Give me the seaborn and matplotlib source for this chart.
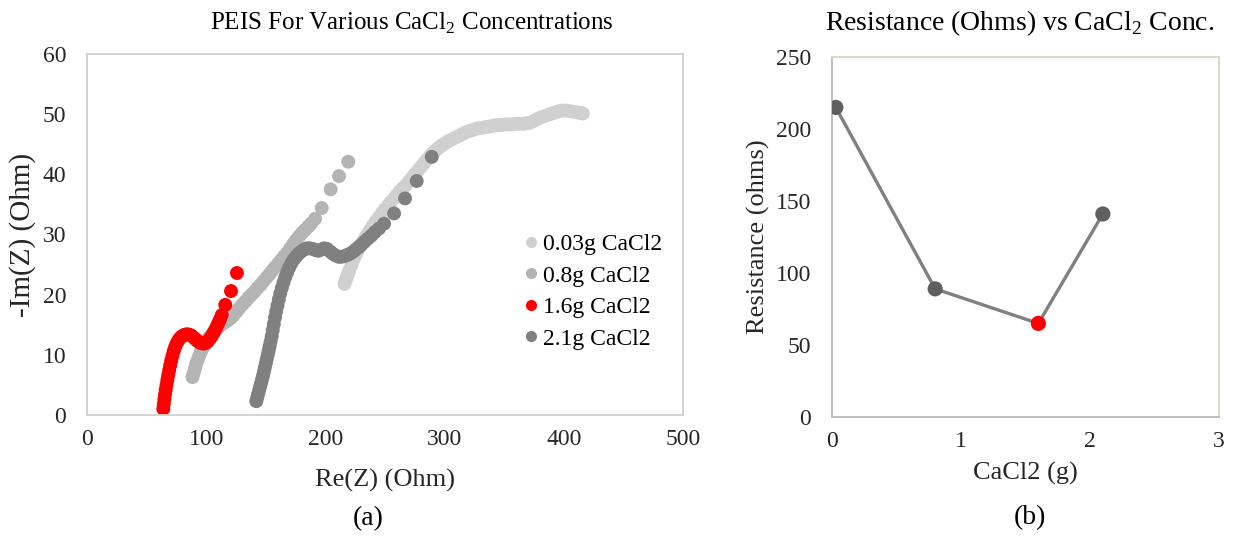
import matplotlib
matplotlib.use("Agg")
import matplotlib.pyplot as plt
import pandas as pd
import seaborn as sns


# ---------------------------
# Data
# ---------------------------

labels = ["0.03g CaCl2", "0.8g CaCl2", "1.6g CaCl2", "2.1g CaCl2"]
colors = ["#d0d0d0", "#b4b4b4", "#ff0000", "#808080"]

# 0.03g CaCl2
re_003 = [216, 217, 218, 219, 220, 222, 224, 226, 228, 230,
          232, 234, 236, 238, 240, 242.5, 245, 247.5, 250, 252.5,
          255, 257.5, 260, 262.5, 265, 267.5, 270, 272.5, 275, 277.5,
          280, 282.5, 285, 287.5, 290, 292.5, 295, 297.5, 300, 303,
          306, 309, 312, 315, 318, 321, 324, 327, 330, 333,
          336, 339, 342, 345, 348, 351, 354, 357, 360, 363,
          366, 369, 372, 375, 378, 381, 384, 387, 390, 393,
          396, 399, 402, 405, 408, 411, 414, 416]
im_003 = [21.8, 22.4, 22.9, 23.5, 24.0, 25.0, 26.0, 26.8, 27.6, 28.3,
          29.0, 29.7, 30.3, 30.9, 31.5, 32.2, 32.9, 33.6, 34.2, 34.8,
          35.4, 36.0, 36.6, 37.2, 37.7, 38.2, 38.8, 39.4, 40.0, 40.6,
          41.2, 41.8, 42.4, 43.0, 43.5, 44.0, 44.4, 44.8, 45.1, 45.5,
          45.8, 46.1, 46.4, 46.7, 47.0, 47.2, 47.4, 47.6, 47.7, 47.8,
          47.9, 48.0, 48.1, 48.2, 48.2, 48.3, 48.3, 48.3, 48.4, 48.4,
          48.4, 48.5, 48.6, 48.9, 49.2, 49.5, 49.7, 49.9, 50.1, 50.3,
          50.5, 50.6, 50.6, 50.5, 50.4, 50.3, 50.2, 50.1]

# 0.8g CaCl2
re_08 = [88.5, 89.5, 90.5, 91.5, 92.7, 94.0, 95.5, 97.0, 98.7, 100.5,
         102.5, 104.5, 106.5, 108.7, 111.0, 113.3, 115.7, 118.0, 120.5, 123.0,
         125.5, 128.0, 130.5, 133.0, 135.5, 138.0, 140.5, 143.0, 145.5, 148.0,
         150.5, 153.0, 155.5, 158.0, 160.5, 163.0, 165.5, 168.0, 170.5, 173.0,
         175.5, 178.0, 180.5, 183.0, 185.5, 188.0, 191.3, 196.9, 204.4, 211.4,
         219.2]
im_08 = [6.3, 7.0, 7.7, 8.4, 9.1, 9.8, 10.5, 11.1, 11.7, 12.3,
         12.9, 13.4, 13.9, 14.3, 14.7, 15.1, 15.4, 15.7, 16.1, 16.6,
         17.2, 17.8, 18.4, 18.9, 19.5, 20.0, 20.5, 21.1, 21.6, 22.2,
         22.8, 23.4, 24.0, 24.6, 25.2, 25.8, 26.4, 27.0, 27.7, 28.4,
         29.1, 29.7, 30.3, 30.8, 31.3, 31.8, 32.6, 34.4, 37.5, 39.7,
         42.1]

# 1.6g CaCl2
re_16 = [64.0, 64.4, 64.9, 65.4, 66.0, 66.7, 67.4, 68.1, 68.9, 69.7,
         70.6, 71.6, 72.7, 73.9, 75.2, 76.6, 78.1, 79.7, 81.4, 83.1,
         84.8, 86.5, 88.2, 89.9, 91.6, 93.3, 95.0, 96.7, 98.4, 100.0,
         101.6, 103.1, 104.6, 106.0, 107.4, 108.8, 110.2, 111.6, 113.0, 116.0,
         120.8, 125.8]
im_16 = [1.0, 1.8, 2.6, 3.4, 4.2, 5.0, 5.8, 6.6, 7.4, 8.2,
         9.0, 9.8, 10.6, 11.3, 11.9, 12.4, 12.8, 13.1, 13.3, 13.4,
         13.4, 13.3, 13.1, 12.8, 12.5, 12.2, 12.0, 11.9, 11.9, 12.0,
         12.3, 12.7, 13.1, 13.6, 14.1, 14.7, 15.3, 15.9, 16.6, 18.3,
         20.6, 23.6]

# 2.1g CaCl2
re_21 = [142.0, 142.8, 143.6, 144.4, 145.2, 146.0, 146.8, 147.6, 148.4, 149.2,
         150.0, 150.8, 151.6, 152.4, 153.2, 154.0, 154.9, 155.8, 156.7, 157.7,
         158.7, 159.8, 160.9, 162.1, 163.4, 164.8, 166.3, 167.9, 169.6, 171.4,
         173.3, 175.3, 177.5, 179.8, 182.2, 184.6, 187.0, 189.4, 191.8, 194.2,
         196.6, 199.0, 201.4, 203.8, 206.2, 208.6, 211.0, 213.4, 215.8, 218.2,
         220.6, 223.0, 225.4, 227.8, 230.2, 232.8, 235.5, 238.5, 241.5, 245.0,
         249.2, 257.6, 266.8, 276.6, 289.2]
im_21 = [2.3, 2.9, 3.5, 4.1, 4.7, 5.3, 5.9, 6.5, 7.2, 7.9,
         8.6, 9.3, 10.0, 10.7, 11.4, 12.2, 13.1, 14.1, 15.1, 16.2,
         17.2, 18.2, 19.2, 20.2, 21.1, 22.0, 22.9, 23.7, 24.5, 25.2,
         25.8, 26.3, 26.8, 27.2, 27.5, 27.7, 27.7, 27.6, 27.4, 27.3,
         27.5, 27.7, 27.6, 27.2, 26.8, 26.5, 26.3, 26.3, 26.4, 26.6,
         26.8, 27.1, 27.5, 27.9, 28.3, 28.8, 29.3, 29.8, 30.4, 31.0,
         31.8, 33.5, 36.0, 38.9, 42.9]

# Resistance vs concentration
conc_g = [0.03, 0.8, 1.6, 2.1]
resistance = [215, 89, 65, 141]
point_kind = ["other", "other", "lowest", "other"]


# ---------------------------
# Style
# ---------------------------

sns.set_theme(style="white")
plt.rcParams["font.family"] = ["Liberation Serif", "DejaVu Serif"]
plt.rcParams["mathtext.fontset"] = "custom"
plt.rcParams["mathtext.rm"] = "Liberation Serif"
plt.rcParams["text.color"] = "black"

TICK_SIZE = 17
LABEL_SIZE = 19


# ---------------------------
# Table for seaborn
# ---------------------------

frames = []
for lab, re_vals, im_vals in zip(labels, [re_003, re_08, re_16, re_21],
                                 [im_003, im_08, im_16, im_21]):
    frames.append(pd.DataFrame({"re": re_vals, "im": im_vals, "sample": lab}))
peis = pd.concat(frames, ignore_index=True)


fig = plt.figure(figsize=(12.36, 5.36), dpi=100)
ax1 = fig.add_axes([0.0704, 0.2257, 0.4822, 0.6736])
ax2 = fig.add_axes([0.6731, 0.222, 0.3131, 0.6716])


# ---------------------------
# (a) PEIS
# ---------------------------

sns.scatterplot(
    data=peis, x="re", y="im",
    hue="sample", hue_order=labels,
    palette=dict(zip(labels, colors)),
    s=100, linewidth=0, alpha=1,
    ax=ax1
)

ax1.set_xlim(0, 500)
ax1.set_ylim(0, 60)
ax1.set_xticks(range(0, 501, 100))
ax1.set_yticks(range(0, 61, 10))
ax1.tick_params(length=0, labelsize=TICK_SIZE)
ax1.tick_params(axis="x", pad=10)
ax1.tick_params(axis="y", pad=15)
ax1.set_xlabel("Re(Z) (Ohm)", fontsize=LABEL_SIZE)
ax1.set_ylabel("-Im(Z) (Ohm)", fontsize=21)
ax1.xaxis.set_label_coords(0.5, -0.15)
ax1.yaxis.set_label_coords(-0.085, 0.5)
for sp in ax1.spines.values():
    sp.set_color("#d0d0d0")
    sp.set_linewidth(1.3)

handles, _ = ax1.get_legend_handles_labels()
ax1.legend(handles, labels, loc="upper left", bbox_to_anchor=(0.713, 0.535),
           frameon=False, fontsize=17, markerscale=0.8,
           handlelength=0.6, handletextpad=0.2, labelspacing=0.42,
           borderpad=0)


# ---------------------------
# (b) Resistance
# ---------------------------

sns.lineplot(x=conc_g, y=resistance, color="#808080", linewidth=2.4, ax=ax2)
sns.scatterplot(
    x=conc_g, y=resistance, hue=point_kind,
    palette={"other": "#5f5f5f", "lowest": "#ff0000"},
    s=120, linewidth=0, legend=False, zorder=3, ax=ax2
)

ax2.set_xlim(0, 3)
ax2.set_ylim(0, 250)
ax2.set_xticks([0, 1, 2, 3])
ax2.set_yticks(range(0, 251, 50))
ax2.tick_params(length=0, labelsize=TICK_SIZE)
ax2.tick_params(axis="x", pad=10)
ax2.tick_params(axis="y", pad=15)
ax2.set_xlabel("CaCl2 (g)", fontsize=LABEL_SIZE)
ax2.set_ylabel("Resistance (ohms)", fontsize=LABEL_SIZE)
ax2.xaxis.set_label_coords(0.4987, -0.125)
ax2.yaxis.set_label_coords(-0.16, 0.5)
ax2.spines["left"].set_color("#bfbfbf")
ax2.spines["bottom"].set_color("#bfbfbf")
ax2.spines["top"].set_color("#dcd9c5")
ax2.spines["right"].set_color("#dcd9c5")
for sp in ax2.spines.values():
    sp.set_linewidth(1.4)


# ---------------------------
# Titles and panel letters
# ---------------------------

fig.text(412 / 1236, 0.957, r"PEIS For Various CaCl$_\mathregular{2}$ Concentrations",
         ha="center", va="center", fontsize=18)
fig.text(1020 / 1236, 0.957, r"Resistance (Ohms) vs CaCl$_\mathregular{2}$ Conc.",
         ha="center", va="center", fontsize=20)
fig.text(368 / 1236, 0.032, "(a)", ha="center", va="center", fontsize=20)
fig.text(1030 / 1236, 0.034, "(b)", ha="center", va="center", fontsize=20)

plt.savefig("out.png", dpi=100)
